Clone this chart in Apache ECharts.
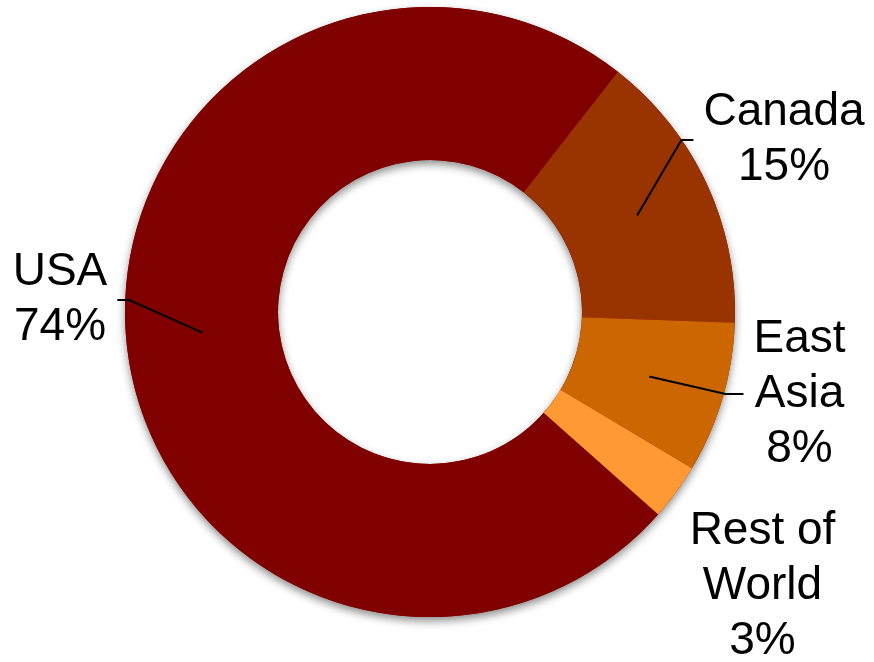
<!DOCTYPE html>
<html>
<head>
<meta charset="utf-8">
<title>Share by region</title>
<script src="https://cdn.jsdelivr.net/npm/echarts@6/dist/echarts.min.js"></script>
<style>
  html, body { margin: 0; padding: 0; background: #ffffff; }
  #chart { width: 874px; height: 662px; }
</style>
</head>
<body>
<div id="chart"></div>
<script>
// Regions, clockwise from the top-right boundary
const regions = ['Canada', 'East Asia', 'Rest of World', 'USA'];
const regionLabels = ['Canada', 'East\nAsia', 'Rest of\nWorld', 'USA'];
const shares = [15, 8, 3, 74];
const sliceColors = ['#993300', '#CC6600', '#FF9933', '#800000'];

// Ring geometry
const CX = 430, CY = 312;
const R_IN = 152, R_OUT = 305;
const START = 52;

// Where each label block sits (centre of text) and the horizontal tail of its leader
const labelSpots = [
  { x: 784, y: 140, side: 'right', tail: 12 },
  { x: 799.5, y: 394, side: 'right', tail: 18 },
  { x: 762.5, y: 586, side: 'right', tail: 12 },
  { x: 60, y: 300, side: 'left', tail: 12 }
];

const total = shares.reduce((a, b) => a + b, 0);

const chart = echarts.init(document.getElementById('chart'), null, { renderer: 'canvas' });

const ringBase = {
  type: 'pie',
  center: [CX, CY],
  radius: [R_IN, R_OUT],
  startAngle: START,
  clockwise: true,
  avoidLabelOverlap: false,
  emphasis: { disabled: true }
};

const option = {
  animation: false,
  backgroundColor: '#ffffff',
  series: [
    Object.assign({}, ringBase, {
      // soft drop shadow under the whole ring
      z: 1,
      silent: true,
      label: { show: false },
      labelLine: { show: false },
      itemStyle: {
        color: '#800000',
        borderWidth: 0,
        shadowBlur: 9,
        shadowOffsetY: 4,
        shadowColor: 'rgba(0,0,0,0.45)'
      },
      data: [{ value: total, name: 'all' }]
    }),
    Object.assign({}, ringBase, {
      // the coloured slices
      z: 2,
      label: { show: false },
      labelLine: { show: false },
      itemStyle: { borderWidth: 0 },
      data: regions.map((name, i) => ({
        name: name,
        value: shares[i],
        itemStyle: { color: sliceColors[i] }
      }))
    }),
    Object.assign({}, ringBase, {
      // labels and leader lines, drawn above the slices
      z: 3,
      silent: true,
      itemStyle: { color: 'rgba(0,0,0,0)', borderWidth: 0 },
      label: {
        show: true,
        position: 'outside',
        color: '#000000',
        fontFamily: '"Liberation Sans", Arial, sans-serif',
        fontSize: 46,
        lineHeight: 55,
        align: 'center',
        formatter: function (p) {
          return regionLabels[p.dataIndex] + '\n' + p.percent + '%';
        }
      },
      labelLine: {
        show: true,
        length: 20,
        length2: 10,
        lineStyle: { color: '#000000', width: 2 }
      },
      labelLayout: function (params) {
        const spot = labelSpots[params.dataIndex];
        const out = {
          x: spot.x,
          y: spot.y,
          align: 'center',
          verticalAlign: 'middle'
        };
        const pts = params.labelLinePoints;
        if (pts && pts.length) {
          // leader starts in the middle of the ring, on the slice's mid-angle
          const k = ((R_IN + R_OUT) / 2) / R_OUT;
          const sx = CX + (pts[0][0] - CX) * k;
          const sy = CY + (pts[0][1] - CY) * k;
          const halfW = params.labelRect.width / 2;
          const gap = 10;
          let ex, bx;
          if (spot.side === 'right') {
            ex = spot.x - halfW - gap;
            bx = ex - spot.tail;
          } else {
            ex = spot.x + halfW + gap;
            bx = ex + spot.tail;
          }
          out.labelLinePoints = [[sx, sy], [bx, spot.y], [ex, spot.y]];
        }
        return out;
      },
      data: regions.map((name, i) => ({
        name: name,
        value: shares[i],
        labelLine: { show: name !== 'Rest of World' }
      }))
    })
  ]
};

chart.setOption(option);
</script>
</body>
</html>
